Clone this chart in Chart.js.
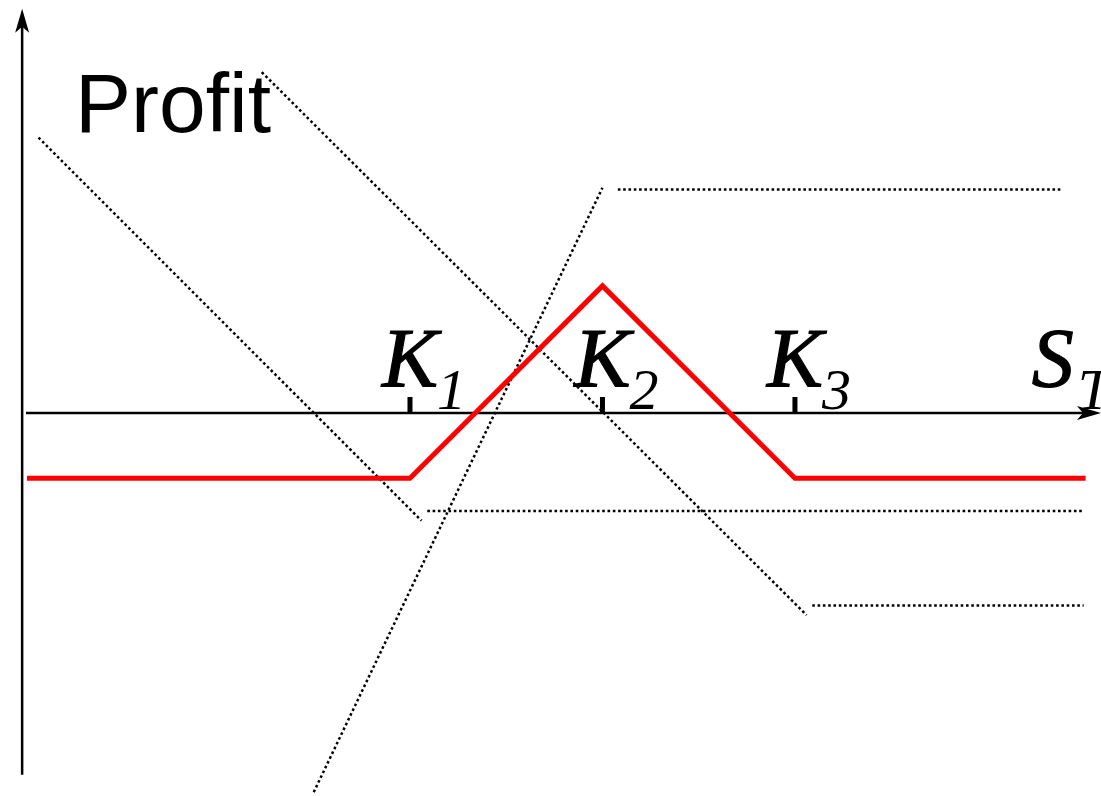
<!DOCTYPE html>
<html>
<head>
<meta charset="utf-8">
<script src="https://cdn.jsdelivr.net/npm/chart.js@4"></script>
<style>
  body { margin: 0; background: #fff; }
  canvas { display: block; }
</style>
</head>
<body>
<canvas id="payoff" width="1101" height="796"></canvas>
<script>
// butterfly spread with puts: long K1, short 2 x K2, long K3
const strikes = [40, 50, 60];
const strikeSubs = ['1', '2', '3'];

// net profit (red)
const netSpot = [20.1, 40, 50, 60, 75.1];
const netProfit = [-3.4, -3.4, 6.6, -3.4, -3.4];

// long put K1 (dotted)
const putK1Spot = [20.7, 40.6];
const putK1Profit = [14.3, -5.6];
const putK1FlatSpot = [40.9, 75.0];
const putK1FlatProfit = [-5.1, -5.1];

// long put K3 (dotted)
const putK3Spot = [32.3, 60.6];
const putK3Profit = [17.7, -10.5];
const putK3FlatSpot = [60.9, 75.0];
const putK3FlatProfit = [-10.0, -10.0];

// short 2 puts K2 (dotted)
const shortK2Spot = [35.0, 50.0];
const shortK2Profit = [-19.7, 11.7];
const shortK2FlatSpot = [50.8, 73.9];
const shortK2FlatProfit = [11.6, 11.6];

// axes extent, in chart units
const xAxisFrom = 20.05, xAxisTo = 75.9;
const yAxisAt = 19.85, yAxisFrom = -18.8, yAxisTo = 21.0;

function pts(xs, ys) {
    return xs.map((x, i) => ({ x: x, y: ys[i] }));
}

function dotted(xs, ys) {
    return {
        data: pts(xs, ys),
        borderColor: '#000',
        borderWidth: 2.5,
        borderDash: [2.6, 2.7],
        pointRadius: 0,
        fill: false,
        order: 2
    };
}

const axesPlugin = {
    id: 'axes',
    beforeDatasetsDraw(chart) {
        const c = chart.ctx, xs = chart.scales.x, ys = chart.scales.y;
        const y0 = ys.getPixelForValue(0);
        const vx = xs.getPixelForValue(yAxisAt);
        const vTop = ys.getPixelForValue(yAxisTo);
        const vBot = ys.getPixelForValue(yAxisFrom);
        const hL = xs.getPixelForValue(xAxisFrom);
        const hR = xs.getPixelForValue(xAxisTo);
        c.save();
        c.strokeStyle = '#000';
        c.fillStyle = '#000';
        c.lineWidth = 2.5;
        c.beginPath();
        c.moveTo(vx, vBot); c.lineTo(vx, vTop + 10);
        c.moveTo(hL, y0); c.lineTo(hR - 10, y0);
        c.stroke();
        // arrow heads
        c.beginPath();
        c.moveTo(vx, vTop); c.lineTo(vx - 7, vTop + 24); c.lineTo(vx, vTop + 18); c.lineTo(vx + 7, vTop + 24);
        c.closePath(); c.fill();
        c.beginPath();
        c.moveTo(hR, y0); c.lineTo(hR - 24, y0 - 7); c.lineTo(hR - 18, y0); c.lineTo(hR - 24, y0 + 7);
        c.closePath(); c.fill();
        // strike ticks
        c.lineWidth = 5;
        c.beginPath();
        strikes.forEach(k => {
            const px = xs.getPixelForValue(k);
            c.moveTo(px, y0 - 16); c.lineTo(px, y0);
        });
        c.stroke();
        c.restore();
    },
    afterDatasetsDraw(chart) {
        const c = chart.ctx, xs = chart.scales.x, ys = chart.scales.y;
        const y0 = ys.getPixelForValue(0);
        c.save();
        c.fillStyle = '#000';
        c.strokeStyle = '#000';
        c.lineWidth = 1.2;
        c.textBaseline = 'alphabetic';
        strikes.forEach((k, i) => {
            const px = xs.getPixelForValue(k);
            c.font = 'italic 84px "Liberation Serif"';
            c.textAlign = 'center';
            c.fillText('K', px, y0 - 26);
            c.strokeText('K', px, y0 - 26);
            c.font = 'italic 58px "Liberation Serif"';
            c.textAlign = 'left';
            c.fillText(strikeSubs[i], px + 27, y0 - 4);
        });
        const sx = xs.getPixelForValue(72.3);
        c.font = 'italic 84px "Liberation Serif"';
        c.textAlign = 'left';
        c.fillText('S', sx, y0 - 26);
        c.strokeText('S', sx, y0 - 26);
        c.font = 'italic 58px "Liberation Serif"';
        c.fillText('T', sx + 46, y0 - 4);
        c.font = '84px "Liberation Sans"';
        c.fillText('Profit', xs.getPixelForValue(22.6), ys.getPixelForValue(14.6));
        c.restore();
    }
};

new Chart(document.getElementById('payoff'), {
    type: 'line',
    data: {
        datasets: [
            {
                data: pts(netSpot, netProfit),
                borderColor: '#ff0000',
                borderWidth: 5,
                pointRadius: 0,
                fill: false,
                borderJoinStyle: 'miter',
                order: 0
            },
            dotted(putK1Spot, putK1Profit),
            dotted(putK1FlatSpot, putK1FlatProfit),
            dotted(putK3Spot, putK3Profit),
            dotted(putK3FlatSpot, putK3FlatProfit),
            dotted(shortK2Spot, shortK2Profit),
            dotted(shortK2FlatSpot, shortK2FlatProfit)
        ]
    },
    options: {
        responsive: false,
        animation: false,
        layout: { padding: 0 },
        plugins: { legend: { display: false }, tooltip: { enabled: false } },
        scales: {
            x: { type: 'linear', display: false, min: 18.70, max: 75.90 },
            y: { type: 'linear', display: false, min: -19.90, max: 21.45 }
        }
    },
    plugins: [axesPlugin]
});
</script>
</body>
</html>
